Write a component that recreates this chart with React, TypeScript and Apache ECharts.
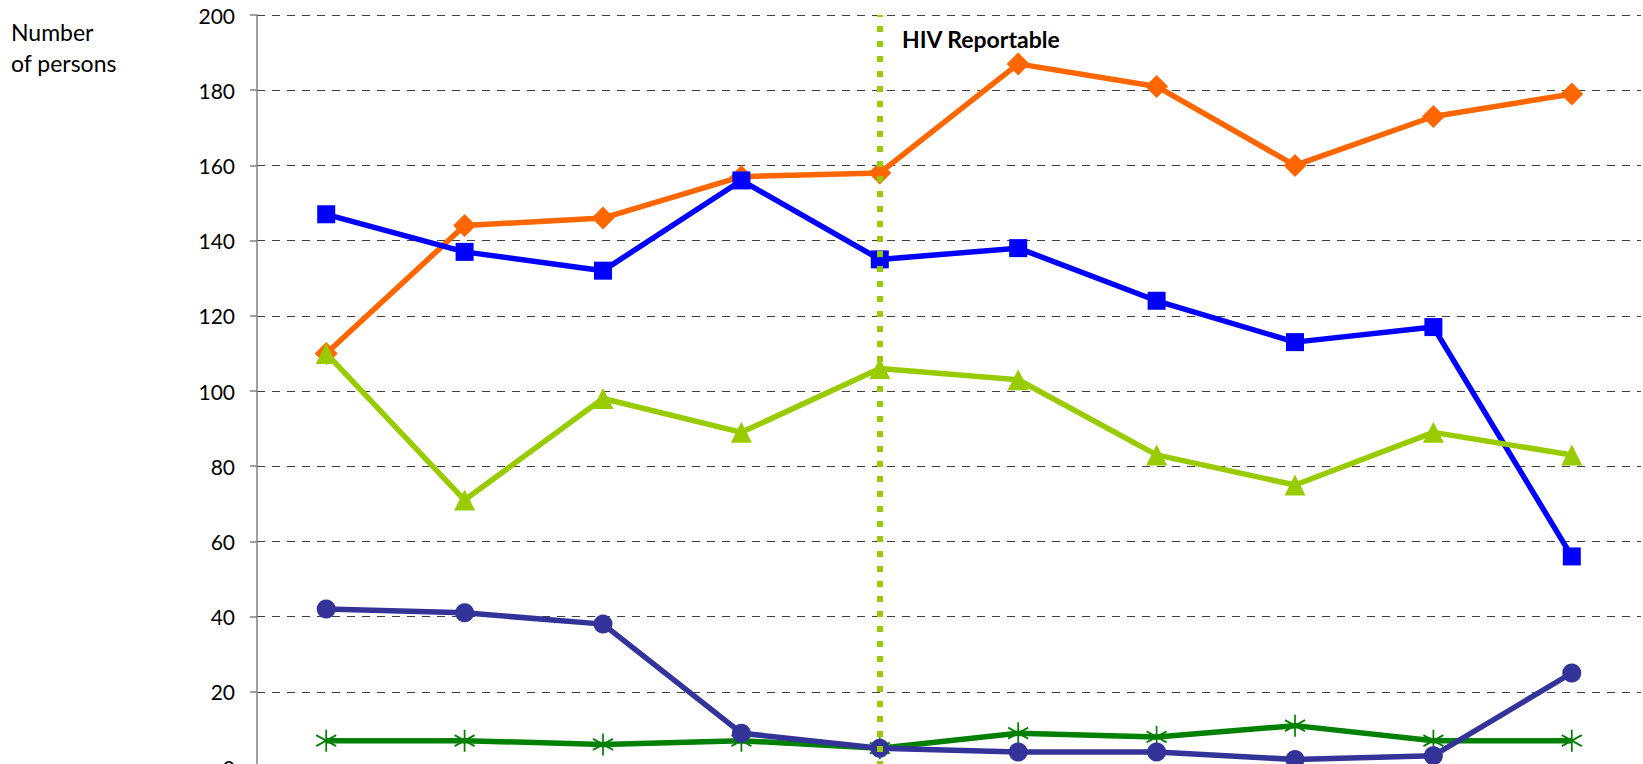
import React, { useEffect, useRef } from "react";
import * as echarts from "echarts";

const categories = ["1", "2", "3", "4", "5", "6", "7", "8", "9", "10"];
const orangeValues = [110, 144, 146, 157, 158, 187, 181, 160, 173, 179];
const blueValues = [147, 137, 132, 156, 135, 138, 124, 113, 117, 56];
const limeValues = [110, 71, 98, 89, 106, 103, 83, 75, 89, 83];
const greenValues = [7, 7, 6, 7, 5, 9, 8, 11, 7, 7];
const purpleValues = [42, 41, 38, 9, 5, 4, 4, 2, 3, 25];
const reportableIndex = 4;
const yTicks = { min: 0, max: 200, interval: 20 };

const FONT = "Lato, 'Noto Sans', sans-serif";
const STAR = "path://M0,-10L0,10M-8.7,-5L8.7,5M-8.7,5L8.7,-5";

export default function App() {
  const ref = useRef<HTMLDivElement>(null);
  useEffect(() => {
    if (!ref.current) return;
    const chart = echarts.init(ref.current, null, { renderer: "svg" });
    const lineSeries = (name: string, data: number[], color: string, symbol: string, size: any, extra: any = {}) => ({
      type: "line",
      name,
      data,
      symbol,
      symbolSize: size,
      showSymbol: true,
      lineStyle: { color, width: 5.5 },
      itemStyle: { color, borderColor: color, borderWidth: 0 },
      emphasis: { disabled: true },
      ...extra,
    });
    chart.setOption({
      animation: false,
      grid: { left: 257, right: 2, top: 15, bottom: 53, outerBoundsMode: "none" },
      xAxis: {
        type: "category",
        data: categories,
        boundaryGap: true,
        axisLine: { show: false },
        axisTick: { show: false },
        axisLabel: { show: false },
        splitLine: { show: false },
      },
      yAxis: {
        type: "value",
        min: yTicks.min,
        max: yTicks.max,
        interval: yTicks.interval,
        axisLine: { show: true, lineStyle: { color: "#808080", width: 1.5 } },
        axisTick: { show: true, length: 7, lineStyle: { color: "#808080", width: 1.5 } },
        axisLabel: { color: "#000", fontSize: 21, fontFamily: FONT, margin: 22 },
        splitLine: { show: true, lineStyle: { color: "#404040", width: 1.1, type: [8, 7] } },
      },
      graphic: [
        {
          type: "text",
          left: 11,
          top: 16,
          style: { text: "Number\nof persons", fontSize: 23, lineHeight: 31, fontFamily: FONT, fill: "#000" },
        },
        {
          type: "text",
          x: 902,
          y: 39,
          style: { text: "HIV Reportable", fontSize: 23, fontWeight: "bold", fontFamily: FONT, fill: "#000", verticalAlign: "middle" },
        },
      ],
      series: [
        lineSeries("Series A", orangeValues, "#FF6600", "diamond", 23, {
          markLine: {
            silent: true,
            symbol: "none",
            label: { show: false },
            lineStyle: { color: "#99CC00", width: 6, type: [6, 9] },
            data: [{ xAxis: categories[reportableIndex] }],
          },
        }),
        lineSeries("Series B", blueValues, "#0000FF", "rect", 18),
        lineSeries("Series C", limeValues, "#99CC00", "triangle", 21),
        lineSeries("Series D", greenValues, "#008000", STAR, [20, 22], {
          itemStyle: { color: "#008000", borderColor: "#008000", borderWidth: 1.8 },
        }),
        lineSeries("Series E", purpleValues, "#333399", "circle", 19),
      ],
    });
    return () => chart.dispose();
  }, []);
  return (
    <div style={{ position: "fixed", left: 0, top: 0, width: 1643, height: 764, overflow: "hidden", background: "#fff" }}>
      <div ref={ref} style={{ width: 1643, height: 820 }} />
    </div>
  );
}
